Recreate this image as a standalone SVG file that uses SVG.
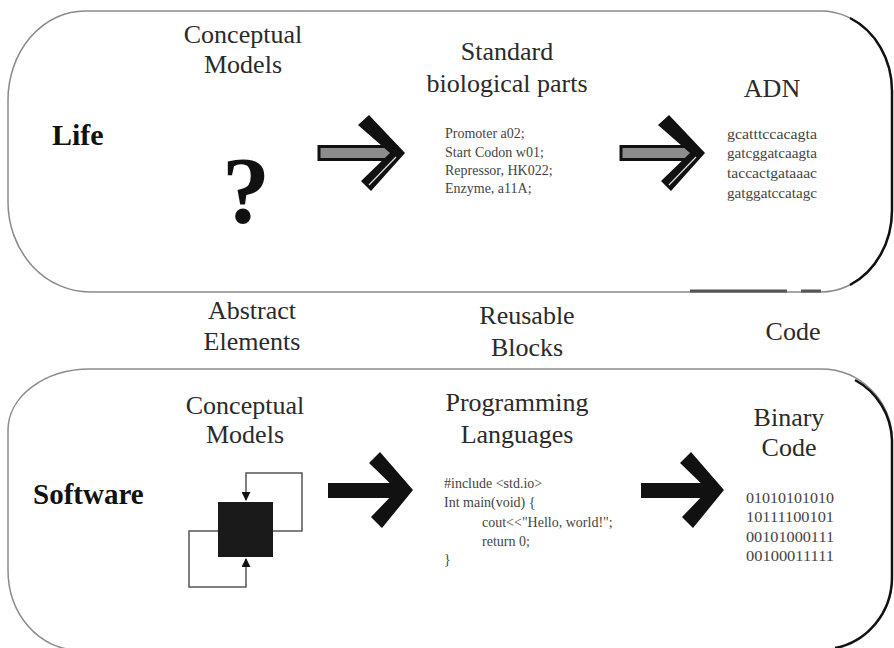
<svg xmlns="http://www.w3.org/2000/svg" width="894" height="648" viewBox="0 0 894 648">
<defs>
<style>
text{font-family:"Liberation Serif","DejaVu Serif","Times New Roman",serif}
.lbl{font-size:26px;fill:#2a2a2a;text-anchor:middle}
.big{font-weight:bold;fill:#111}
.sm{font-size:14px;fill:#444}
.box{fill:none;stroke:#8a8a8a;stroke-width:1.5}
.edge{fill:none;stroke:#111;stroke-width:2.5}
.loop{fill:none;stroke:#555;stroke-width:1.5}
</style>
<marker id="ah" viewBox="0 0 10 10" refX="9" refY="5" markerWidth="6" markerHeight="6" orient="auto">
<path d="M0,0 L10,5 L0,10 Z" fill="#111"/>
</marker>
</defs>
<rect width="894" height="648" fill="#fff"/>

<g id="life-box">
<path class="box" d="M85,11 H821 A71,80 0 0 1 892,91 V210 A71,82 0 0 1 821,292 H90 A82,90 0 0 1 8,202 V100 A77,89 0 0 1 85,11 Z"/>
<path class="edge" d="M850,18 A71,80 0 0 1 892,91 V210 A71,82 0 0 1 850,285"/>
<path d="M690,291 H787 M801,291 H821" stroke="#555" stroke-width="3"/>
<text class="big" x="52" y="145" font-size="30">Life</text>
</g>

<g id="life-models">
<text class="lbl" x="243" y="43">Conceptual</text>
<text class="lbl" x="243" y="73">Models</text>
<text class="big" x="246" y="223" font-size="96" text-anchor="middle">?</text>
</g>

<g id="life-parts">
<text class="lbl" x="507" y="60">Standard</text>
<text class="lbl" x="507" y="92">biological parts</text>
<text class="sm" x="445" y="138">Promoter a02;</text>
<text class="sm" x="445" y="157">Start Codon w01;</text>
<text class="sm" x="445" y="175">Repressor, HK022;</text>
<text class="sm" x="445" y="193">Enzyme, a11A;</text>
</g>

<g id="life-dna">
<text class="lbl" x="772" y="97">ADN</text>
<text class="sm" x="727" y="139" textLength="90" lengthAdjust="spacingAndGlyphs">gcatttccacagta</text>
<text class="sm" x="727" y="158" textLength="90" lengthAdjust="spacingAndGlyphs">gatcggatcaagta</text>
<text class="sm" x="727" y="178" textLength="90" lengthAdjust="spacingAndGlyphs">taccactgataaac</text>
<text class="sm" x="727" y="198" textLength="90" lengthAdjust="spacingAndGlyphs">gatggatccatagc</text>
</g>

<g id="middle-labels">
<text class="lbl" x="252" y="319">Abstract</text>
<text class="lbl" x="252" y="350">Elements</text>
<text class="lbl" x="527" y="324">Reusable</text>
<text class="lbl" x="527" y="356">Blocks</text>
<text class="lbl" x="793" y="340">Code</text>
</g>

<g id="software-box">
<path class="box" d="M90,369 H821 A71,71 0 0 1 892,440 V578 A70,72 0 0 1 822,650 H78 A70,80 0 0 1 8,570 V430 A82,61 0 0 1 90,369 Z"/>
<path class="edge" d="M855,380 A71,71 0 0 1 892,440 V578 A70,72 0 0 1 835,648"/>
<text class="big" x="33" y="504" font-size="29">Software</text>
</g>

<g id="sw-models">
<text class="lbl" x="245" y="414">Conceptual</text>
<text class="lbl" x="245" y="443">Models</text>
<rect x="218" y="502" width="55" height="55" fill="#1a1a1a"/>
<path class="loop" d="M273,531 H302 V473 H246 V500" marker-end="url(#ah)"/>
<path class="loop" d="M218,531 H189 V587 H246 V559" marker-end="url(#ah)"/>
</g>

<g id="sw-lang">
<text class="lbl" x="517" y="411">Programming</text>
<text class="lbl" x="517" y="443">Languages</text>
<text class="sm" x="444" y="488">#include &lt;std.io&gt;</text>
<text class="sm" x="444" y="507">Int main(void) {</text>
<text class="sm" x="482" y="527">cout&lt;&lt;"Hello, world!";</text>
<text class="sm" x="482" y="546">return 0;</text>
<text class="sm" x="444" y="564">}</text>
</g>

<g id="sw-binary">
<text class="lbl" x="789" y="426">Binary</text>
<text class="lbl" x="789" y="456">Code</text>
<text class="sm" x="746" y="503" font-size="16" textLength="88" lengthAdjust="spacingAndGlyphs">01010101010</text>
<text class="sm" x="746" y="522" font-size="16" textLength="88" lengthAdjust="spacingAndGlyphs">10111100101</text>
<text class="sm" x="746" y="542" font-size="16" textLength="88" lengthAdjust="spacingAndGlyphs">00101000111</text>
<text class="sm" x="746" y="561" font-size="16" textLength="88" lengthAdjust="spacingAndGlyphs">00100011111</text>
</g>

<g id="connectors">
<g id="arrow-life-1">
<rect x="319" y="146.5" width="74" height="13" fill="#8c8c8c" stroke="#111" stroke-width="3"/>
<polygon points="369,115 405,153 371,191 361,181 390,153 358,125" fill="#111"/>
<line x1="396" y1="157" x2="369" y2="185" stroke="#ddd" stroke-width="1.2"/>
</g>
<g id="arrow-life-2">
<rect x="621" y="146.5" width="72" height="13" fill="#8c8c8c" stroke="#111" stroke-width="3"/>
<polygon points="669,115 705,153 671,191 661,181 690,153 658,125" fill="#111"/>
<line x1="696" y1="157" x2="669" y2="185" stroke="#ddd" stroke-width="1.2"/>
</g>
<g id="arrow-sw-1">
<rect x="328" y="483" width="72" height="15" fill="#111"/>
<polygon points="380,452 413,490 382,528 371,517 397,490 369,463" fill="#111"/>
</g>
<g id="arrow-sw-2">
<rect x="641" y="483" width="70" height="15" fill="#111"/>
<polygon points="691,452 724,490 693,528 682,517 708,490 680,463" fill="#111"/>
</g>
</g>
</svg>
